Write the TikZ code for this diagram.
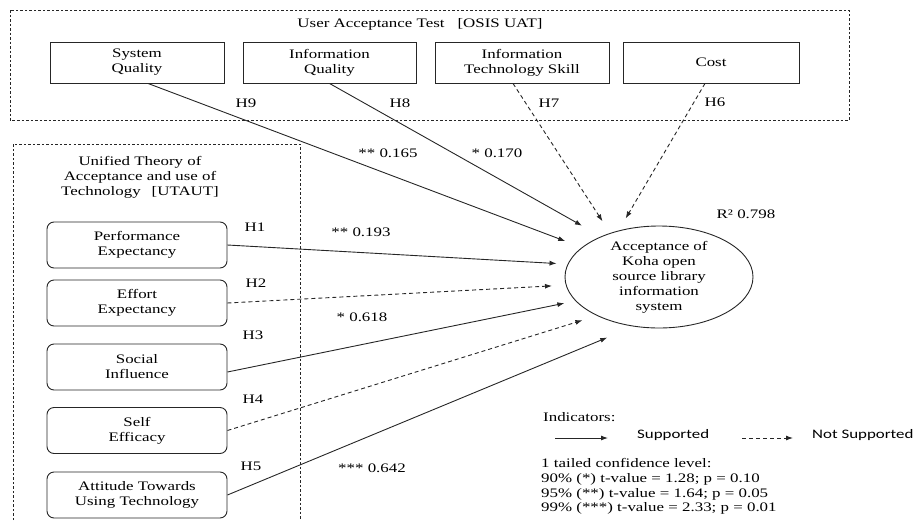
\documentclass[tikz,border=0pt]{standalone}
\usepackage{fontspec}
\setmainfont{Liberation Serif}[FakeStretch=1.3]
\newfontfamily\legsans{Carlito}[FakeStretch=1.3]
\usetikzlibrary{arrows.meta,shapes.geometric}
\begin{document}
\begin{tikzpicture}[x=1pt,y=-1pt,
  every node/.style={font=\fontsize{13}{15}\selectfont, inner sep=0pt},
  ln/.style={line width=0.9pt, draw=black!85},
  arr/.style={ln, -{Latex[length=7pt,width=5pt]}},
  ns/.style={arr, dash pattern=on 4pt off 3pt},
  grp/.style={line width=0.8pt, draw=black!85, dash pattern=on 2.5pt off 2pt},
  topbox/.style={draw=black!85, line width=0.9pt, minimum height=41pt, align=center},
  ubox/.style={draw=black!85, line width=0.9pt, rounded corners=7pt, minimum width=180pt, minimum height=46pt, align=center},
  sans/.style={font={\legsans\fontsize{13}{15}\selectfont}}
]
\useasboundingbox (0,0) rectangle (914,520);

% group frames
\draw[grp] (10,10) rectangle (849,120);
\draw[grp] (13,520) -- (13,144) -- (300,144) -- (300,520);

% titles
\node (tUAT) at (420,24) {User Acceptance Test\hspace{13pt}[OSIS UAT]};
\node[align=center] (tUTA) at (140,177) {Unified Theory of\\Acceptance and use of\\Technology\hspace{11pt}[UTAUT]};

% top boxes
\node[topbox, minimum width=174pt] (SQ) at (137,62.5) {System\\Quality};
\node[topbox, minimum width=173pt] (IQ) at (329.5,62.5) {Information\\Quality};
\node[topbox, minimum width=174pt] (ITS) at (522,62.5) {Information\\Technology Skill};
\node[topbox, minimum width=176pt] (CO) at (711,62.5) {Cost};

% outcome
\node[ellipse, draw=black!85, line width=0.9pt, minimum width=188pt, minimum height=102pt,
  label={[align=center]center:Acceptance of\\Koha open\\source library\\information\\system}] (E) at (659,277) {};

% UTAUT boxes
\node[ubox] (PE) at (137,245) {Performance\\Expectancy};
\node[ubox] (EE) at (137,303) {Effort\\Expectancy};
\node[ubox] (SI) at (137,367) {Social\\Influence};
\node[ubox] (SE) at (137,430.5) {Self\\Efficacy};
\node[ubox] (AT) at (137,495) {Attitude Towards\\Using Technology};

% connectors
\draw[arr, shorten >=17.7pt] ([xshift=11pt]SQ.south) -- (E.159.7);
\draw[arr, shorten >=21.8pt] (IQ.south) -- (E.145.2);
\draw[ns, shorten >=13.9pt] ([xshift=-9pt]ITS.south) -- (E.138.8);
\draw[ns, shorten >=14pt] ([xshift=-6pt]CO.south) -- (E.131.7);
\draw[arr, shorten >=11pt] (PE.east) -- (E.172.5);
\draw[ns, shorten >=13.8pt] (EE.east) -- (E.185.8);
\draw[arr, shorten >=11.3pt] ([yshift=-5pt]SI.east) -- (E.196.2);
\draw[ns, shorten >=15.2pt] (SE.east) -- (E.212.1);
\draw[arr, shorten >=28.7pt] (AT.east) -- (E.243.5);

% labels
\node (h9) at (246,103) {H9};
\node (h8) at (400,103) {H8};
\node (h7) at (549,103) {H7};
\node (h6) at (715,102) {H6};
\node (v9) at (388,153) {** 0.165};
\node (v8) at (497,153) {* 0.170};
\node (r2) at (746,214) {R² 0.798};
\node (h1) at (255,227) {H1};
\node (h2) at (256,283) {H2};
\node (h3) at (253,335) {H3};
\node (h4) at (253,399) {H4};
\node (h5) at (251,466) {H5};
\node (v1) at (361,232) {** 0.193};
\node (v3) at (362,317) {* 0.618};
\node (v5) at (372,468) {*** 0.642};

% legend
\node[anchor=west] (ind) at (543,417) {Indicators:};
\coordinate (s1) at (555,438);
\coordinate (s2) at (608,438);
\draw[arr] (s1) -- (s2);
\node[sans, anchor=west] (sup) at (637,435) {Supported};
\coordinate (n1) at (742,438);
\coordinate (n2) at (793,438);
\draw[ns] (n1) -- (n2);
\node[sans, anchor=west] (nsup) at (812,435) {Not Supported};

\node[anchor=base west] (c0) at (541,467) {1 tailed confidence level:};
\node[anchor=base west] (c1) at (541,482) {90\% (*) t-value = 1.28; p = 0.10};
\node[anchor=base west] (c2) at (541,497) {95\% (**) t-value = 1.64; p = 0.05};
\node[anchor=base west] (c3) at (541,511.5) {99\% (***) t-value = 2.33; p = 0.01};
\end{tikzpicture}
\end{document}
